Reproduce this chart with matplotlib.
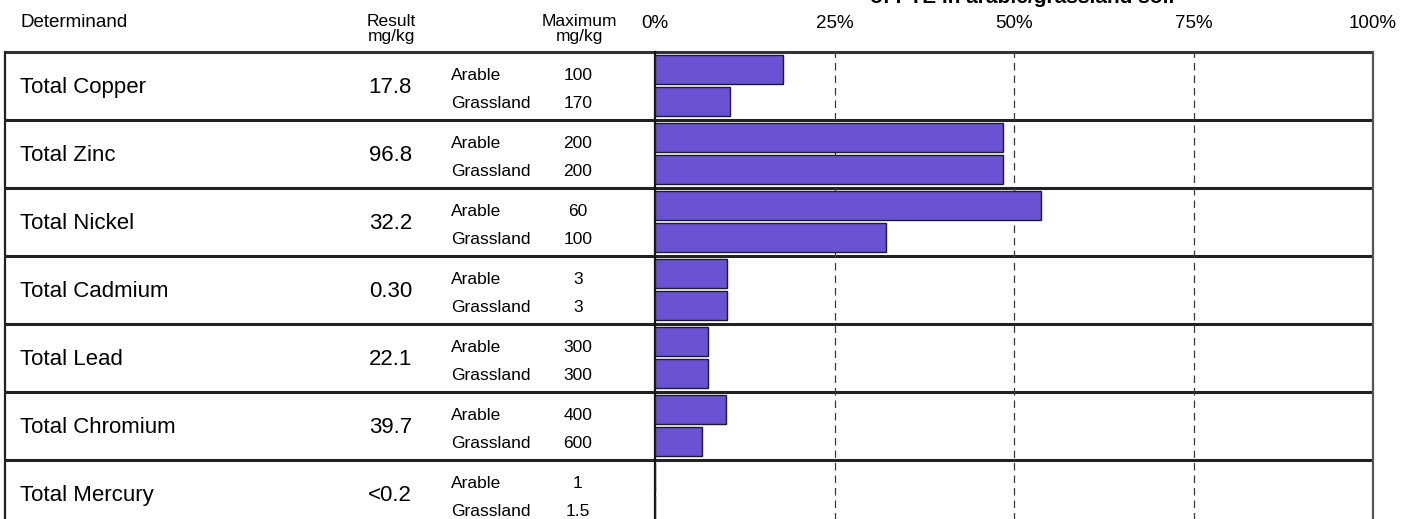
import matplotlib
matplotlib.use("Agg")
import matplotlib.pyplot as plt

plt.rcParams['font.family'] = ['Liberation Sans', 'DejaVu Sans']

# ---- data ----
determinands = ["Total Copper", "Total Zinc", "Total Nickel", "Total Cadmium",
                "Total Lead", "Total Chromium", "Total Mercury"]
result_labels = ["17.8", "96.8", "32.2", "0.30", "22.1", "39.7", "<0.2"]
max_arable = ["100", "200", "60", "3", "300", "400", "1"]
max_grass = ["170", "200", "100", "3", "300", "600", "1.5"]
arable_pct = [17.8, 48.4, 53.7, 10.0, 7.4, 9.9, 0.0]
grass_pct = [10.5, 48.4, 32.2, 10.0, 7.4, 6.6, 0.0]
tick_values = [0, 25, 50, 75, 100]
tick_labels = ["0%", "25%", "50%", "75%", "100%"]
title_text = "of PTE in arable/grassland soil"

W, H = 1411, 519
fig = plt.figure(figsize=(W / 100, H / 100), dpi=100)

n = len(determinands)
row_px = 68
top_px = 52
bottom_px = top_px + n * row_px
ax_bottom = (H - bottom_px) / H
ax_height = n * row_px / H

plot_left, plot_right = 655, 1373
left_border = 5

# table axes (full width, pixel x units)
ax_t = fig.add_axes([0, ax_bottom, 1, ax_height])
ax_t.set_xlim(0, W)
ax_t.set_ylim(n, 0)
ax_t.axis('off')

# bar axes
ax_b = fig.add_axes([plot_left / W, ax_bottom, (plot_right - plot_left) / W, ax_height])
ax_b.set_xlim(0, 100)
ax_b.set_ylim(n, 0)
for s in ax_b.spines.values():
    s.set_visible(False)
ax_b.set_yticks([])
ax_b.xaxis.tick_top()
ax_b.set_xticks(tick_values)
ax_b.set_xticklabels(tick_labels, fontsize=13.5)
ax_b.tick_params(axis='x', length=0, pad=14.3)
ax_b.patch.set_alpha(0)

for v in tick_values[1:-1]:
    ax_b.axvline(v, color='#3a3a3a', lw=0.9, linestyle=(0, (6, 4)), zorder=1)

bar_h = 29 / row_px
ar_c = 17.5 / row_px
gr_c = 49.5 / row_px
bar_color = '#6A52D3'
ys = list(range(n))
ax_b.barh([y + ar_c for y in ys], arable_pct, height=bar_h, color=bar_color,
          edgecolor='#1c1c2c', linewidth=1.0, zorder=3)
ax_b.barh([y + gr_c for y in ys], grass_pct, height=bar_h, color=bar_color,
          edgecolor='#1c1c2c', linewidth=1.0, zorder=3)

# table grid lines
for i in range(n + 1):
    ax_t.plot([left_border, plot_right], [i, i], color='#222222' if i else '#333333',
              lw=2.2, solid_capstyle='butt', clip_on=False, zorder=2)
ax_t.plot([left_border, left_border], [0, n], color='#222222', lw=1.6, clip_on=False)
ax_t.plot([plot_left, plot_left], [0, n], color='#111111', lw=1.6, clip_on=False, zorder=5)
ax_t.plot([plot_right, plot_right], [0, n], color='#555555', lw=1.6, clip_on=False)

# row texts
for i in range(n):
    ax_t.text(20, i + 41.3 / row_px, determinands[i], fontsize=16, ha='left', va='baseline')
    ax_t.text(412, i + 41.3 / row_px, result_labels[i], fontsize=16, ha='right', va='baseline')
    ax_t.text(451, i + 28 / row_px, "Arable", fontsize=12.5, ha='left', va='baseline')
    ax_t.text(451, i + 56.3 / row_px, "Grassland", fontsize=12.5, ha='left', va='baseline')
    ax_t.text(578, i + 28 / row_px, max_arable[i], fontsize=12.5, ha='center', va='baseline')
    ax_t.text(578, i + 56.3 / row_px, max_grass[i], fontsize=12.5, ha='center', va='baseline')

# header texts (figure pixel coords)
def fy(px_from_top):
    return (H - px_from_top) / H

fig.text(20.5 / W, fy(26.7), "Determinand", fontsize=13.5, ha='left', va='baseline')
fig.text(391 / W, fy(26), "Result", fontsize=12.5, ha='center', va='baseline')
fig.text(391 / W, fy(40.5), "mg/kg", fontsize=12.5, ha='center', va='baseline')
fig.text(579 / W, fy(26), "Maximum", fontsize=12.5, ha='center', va='baseline')
fig.text(579 / W, fy(40.5), "mg/kg", fontsize=12.5, ha='center', va='baseline')
fig.text(1022 / W, fy(3), title_text, fontsize=15, fontweight='bold', ha='center', va='baseline')

fig.savefig("out.png", dpi=100)
